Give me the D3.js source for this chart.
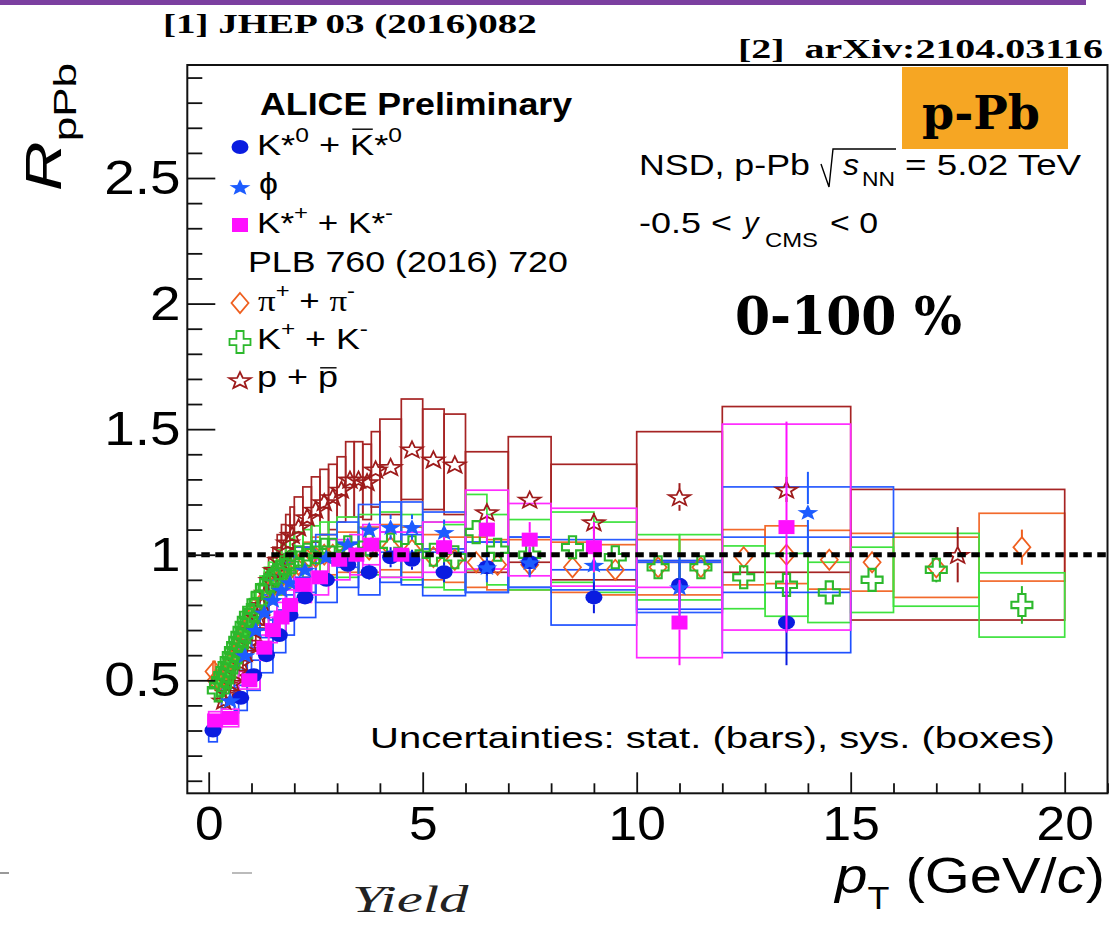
<!DOCTYPE html>
<html><head><meta charset="utf-8">
<script src="https://cdn.jsdelivr.net/npm/d3@7"></script>
<style>html,body{margin:0;padding:0;background:#fff}svg{display:block}text{white-space:pre}</style>
</head><body>
<svg id="c" width="1110" height="925"></svg>
<script>
// ---------------- DATA ----------------
// pi+ + pi-  (PLB 760 (2016) 720)
const piEdges = [0.1,0.15,0.2,0.3,0.4,0.5,0.6,0.7,0.8,0.9,1.0,1.2,1.4,1.6,1.8,2.0,2.2,2.4,2.6,2.8,3.0,3.5,4.0,4.5,5.0,5.5,6.0,6.5,7.0,8.0,9.0,10.0,11.0,12.0,13.0,14.0,15.0,16.0,18.0,20.0];
const piVal  = [0.535,0.50,0.50,0.52,0.55,0.58,0.61,0.65,0.69,0.72,0.77,0.82,0.87,0.91,0.94,0.96,0.98,0.99,1.00,1.00,1.01,1.02,1.03,1.02,0.99,0.98,0.97,0.96,0.96,0.95,0.94,0.95,0.95,0.99,1.00,0.98,0.97,0.95,1.03];
const piStat = [0.04,0.01,0.01,0.01,0.01,0.01,0.01,0.01,0.01,0.01,0.01,0.01,0.01,0.01,0.01,0.01,0.01,0.01,0.01,0.01,0.01,0.01,0.01,0.01,0.01,0.01,0.015,0.015,0.015,0.02,0.02,0.02,0.025,0.03,0.03,0.03,0.035,0.04,0.07];
const piSys  = [0.04,0.04,0.04,0.04,0.04,0.04,0.04,0.05,0.05,0.05,0.05,0.06,0.06,0.07,0.07,0.07,0.07,0.08,0.08,0.08,0.08,0.09,0.09,0.09,0.09,0.09,0.10,0.10,0.10,0.10,0.10,0.11,0.11,0.11,0.115,0.117,0.115,0.12,0.135];

// K+ + K-
const kEdges = [0.2,0.25,0.3,0.35,0.4,0.45,0.5,0.55,0.6,0.65,0.7,0.75,0.8,0.85,0.9,0.95,1.0,1.1,1.2,1.3,1.4,1.5,1.6,1.7,1.8,1.9,2.0,2.2,2.4,2.6,2.8,3.0,3.5,4.0,4.5,5.0,5.5,6.0,6.5,7.0,8.0,9.0,10.0,11.0,12.0,13.0,14.0,15.0,16.0,18.0,20.0];
const kVal  = [0.46,0.48,0.50,0.52,0.54,0.56,0.58,0.60,0.62,0.64,0.66,0.68,0.70,0.72,0.74,0.76,0.78,0.81,0.84,0.87,0.89,0.91,0.93,0.95,0.96,0.97,0.99,1.00,1.01,1.02,1.02,1.03,1.04,1.04,1.03,1.00,0.99,1.09,1.02,1.00,1.03,0.99,0.95,0.95,0.91,0.88,0.85,0.90,0.94,0.80];
const kStat = [0.01,0.01,0.01,0.01,0.01,0.01,0.01,0.01,0.01,0.01,0.01,0.01,0.01,0.01,0.01,0.01,0.01,0.01,0.01,0.01,0.01,0.01,0.01,0.01,0.01,0.01,0.01,0.01,0.01,0.01,0.01,0.01,0.01,0.01,0.01,0.01,0.01,0.01,0.01,0.015,0.02,0.02,0.03,0.03,0.03,0.035,0.04,0.04,0.05,0.075];
const kSys  = [0.04,0.04,0.04,0.045,0.045,0.045,0.05,0.05,0.05,0.055,0.055,0.055,0.06,0.06,0.06,0.065,0.07,0.07,0.075,0.08,0.08,0.085,0.09,0.09,0.095,0.095,0.10,0.10,0.105,0.11,0.11,0.12,0.12,0.13,0.13,0.13,0.13,0.15,0.14,0.14,0.14,0.14,0.13,0.13,0.125,0.125,0.12,0.13,0.145,0.128];

// p + pbar
const pEdges = [0.3,0.4,0.5,0.6,0.7,0.8,0.9,1.0,1.1,1.2,1.3,1.4,1.5,1.6,1.7,1.8,1.9,2.0,2.2,2.4,2.6,2.8,3.0,3.2,3.4,3.6,3.8,4.0,4.5,5.0,5.5,6.0,7.0,8.0,10.0,12.0,15.0,20.0];
const pVal  = [0.42,0.45,0.49,0.53,0.57,0.61,0.65,0.70,0.75,0.80,0.85,0.90,0.94,0.98,1.02,1.05,1.08,1.11,1.15,1.18,1.21,1.23,1.26,1.30,1.30,1.29,1.34,1.35,1.42,1.38,1.36,1.17,1.22,1.13,1.23,1.26,1.00];
const pStat = [0.01,0.01,0.01,0.01,0.01,0.01,0.01,0.01,0.01,0.01,0.01,0.01,0.01,0.01,0.01,0.01,0.01,0.01,0.01,0.01,0.01,0.01,0.01,0.01,0.01,0.01,0.01,0.02,0.02,0.02,0.02,0.03,0.03,0.035,0.055,0.05,0.11];
const pSys  = [0.03,0.03,0.04,0.04,0.05,0.05,0.06,0.06,0.07,0.08,0.08,0.09,0.09,0.10,0.10,0.11,0.11,0.12,0.12,0.13,0.13,0.13,0.13,0.15,0.15,0.15,0.15,0.19,0.20,0.20,0.20,0.24,0.25,0.23,0.26,0.33,0.26];

// K*0 + anti-K*0
const kst0Lo   = [0.0,0.6,0.9,1.2,1.5,1.8,2.0,2.5,3.0,3.5,4.0,4.5,5.0,6.0,7.0,8.0,10.0,12.0];
const kst0Hi   = [0.2,0.9,1.2,1.5,1.8,2.0,2.5,3.0,3.5,4.0,4.5,5.0,6.0,7.0,8.0,10.0,12.0,15.0];
const kst0Val  = [0.30,0.43,0.52,0.60,0.68,0.76,0.83,0.90,0.96,0.93,0.99,0.98,0.93,0.95,0.97,0.83,0.88,0.73];
const kst0Stat = [0.02,0.02,0.02,0.02,0.02,0.02,0.02,0.02,0.03,0.03,0.04,0.04,0.04,0.05,0.05,0.063,0.09,0.17];
const kst0Sys  = [0.045,0.05,0.06,0.07,0.07,0.08,0.08,0.09,0.09,0.09,0.10,0.10,0.093,0.10,0.10,0.11,0.097,0.12];

// phi
const phiLo   = [0.3,0.7,1.0,1.2,1.4,1.6,1.8,2.0,2.5,3.0,3.5,4.0,4.5,5.0,6.0,7.0,8.0,10.0,12.0];
const phiHi   = [0.7,1.0,1.2,1.4,1.6,1.8,2.0,2.5,3.0,3.5,4.0,4.5,5.0,6.0,7.0,8.0,10.0,12.0,16.0];
const phiVal  = [0.42,0.60,0.70,0.77,0.82,0.86,0.89,0.94,0.99,1.04,1.10,1.11,1.11,1.09,0.95,0.97,0.96,0.87,1.17];
const phiStat = [0.03,0.02,0.02,0.02,0.02,0.02,0.02,0.02,0.02,0.03,0.03,0.05,0.05,0.05,0.06,0.06,0.07,0.12,0.16];
const phiSys  = [0.05,0.06,0.07,0.07,0.08,0.08,0.08,0.09,0.09,0.09,0.10,0.10,0.10,0.08,0.10,0.10,0.10,0.10,0.10];

// K*+ + K*-
const kstcLo   = [0.0,0.3,0.7,1.2,1.4,1.6,1.8,2.0,2.4,2.8,3.3,3.6,4.0,5.0,6.0,7.0,8.0,10.0,12.0];
const kstcHi   = [0.3,0.7,1.2,1.4,1.6,1.8,2.0,2.4,2.8,3.3,3.6,4.0,5.0,6.0,7.0,8.0,10.0,12.0,15.0];
const kstcVal  = [0.34,0.35,0.50,0.63,0.70,0.75,0.80,0.88,0.91,0.98,1.00,1.04,1.00,1.03,1.10,1.06,1.03,0.73,1.11];
const kstcStat = [0.02,0.02,0.02,0.02,0.02,0.02,0.02,0.02,0.02,0.02,0.03,0.03,0.03,0.04,0.06,0.07,0.10,0.17,0.42];
const kstcSys  = [0.035,0.035,0.035,0.05,0.05,0.06,0.06,0.07,0.07,0.08,0.08,0.08,0.09,0.10,0.157,0.144,0.155,0.14,0.41];

// axes
const xDomain = [-0.5, 21];
const yDomain = [0.05, 2.95];
const xTickValues = [0, 5, 10, 15, 20];
const xTickLabels = ['0', '5', '10', '15', '20'];
const yTickValues = [0.5, 1, 1.5, 2, 2.5];
const yTickLabels = ['0.5', '1', '1.5', '2', '2.5'];

// ---------------- LAYOUT / STYLE ----------------
const SANS = "'Liberation Sans', Arial, Helvetica, sans-serif";
const SERIF = "'Liberation Serif', 'Times New Roman', serif";
const SLAB = "'DejaVu Serif', 'Liberation Serif', serif";
const frame = {l: 187.3, r: 1107.5, t: 65, b: 793.3};
const col = {
  pi:  {m: '#ef5f1f', b: '#f26a2c'},
  k:   {m: '#2cb82c', b: '#3ee23e'},
  p:   {m: '#9e1b1b', b: '#a62424'},
  kst0:{m: '#0a1ce0', b: '#1f50ff'},
  phi: {m: '#1d5cff', b: '#2a5cff'},
  kstc:{m: '#ff0fff', b: '#ff2bff'}
};

const svg = d3.select('#c');
const x = d3.scaleLinear().domain(xDomain).range([frame.l, frame.r]);
const y = d3.scaleLinear().domain(yDomain).range([frame.b, frame.t]);

svg.append('rect').attr('width', 1110).attr('height', 925).attr('fill', '#fff');
svg.append('rect').attr('x', 0).attr('y', 0).attr('width', 1086).attr('height', 5).attr('fill', '#7b3fa0');

// ---------- helpers ----------
function fitText(parent, str, left, baseline, size, width, o = {}) {
  const t = parent.append('text').attr('x', 0).attr('y', 0)
    .style('font-family', o.family || SANS).style('font-size', size + 'px')
    .style('font-weight', o.bold ? 'bold' : 'normal').style('font-style', o.italic ? 'italic' : 'normal')
    .attr('fill', o.fill || '#000').text(str);
  const bb = t.node().getBBox();
  const sx = width ? width / bb.width : 1;
  t.attr('transform', `translate(${left - bb.x * sx},${baseline}) scale(${sx},1)`);
  return t;
}
function richText(parent, parts, size, width, o = {}) {
  const g = parent.append('g');
  let cx = 0;
  parts.forEach(p => {
    const fs = (p.s || 1) * size;
    const yy = (p.dy || 0) * size;
    const t = g.append('text').attr('x', cx).attr('y', yy)
      .style('font-family', p.family || o.family || SANS).style('font-size', fs + 'px')
      .style('font-weight', (p.bold || o.bold) ? 'bold' : 'normal')
      .style('font-style', p.italic ? 'italic' : 'normal').attr('fill', '#000').text(p.t);
    const w = t.node().getComputedTextLength();
    if (p.over) {
      const oy = yy - fs * p.over;
      g.append('line').attr('x1', cx + fs * 0.06).attr('x2', cx + w - fs * 0.04)
        .attr('y1', oy).attr('y2', oy).attr('stroke', '#000').attr('stroke-width', 1.4);
    }
    cx += w;
  });
  const bb = g.node().getBBox();
  const sx = width ? width / bb.width : 1;
  return {g, bb, sx};
}
function placeRich(parent, parts, left, baseline, size, width, o = {}) {
  const r = richText(parent, parts, size, width, o);
  r.g.attr('transform', `translate(${left - r.bb.x * r.sx},${baseline}) scale(${r.sx},1)`);
  return r.g;
}

// marker shapes (centered at 0,0), stretched horizontally like the original
const SX = 1.28;
function starPts(R, r) {
  const pts = [];
  for (let i = 0; i < 10; i++) {
    const a = -Math.PI / 2 + i * Math.PI / 5;
    const rr = i % 2 ? r : R;
    pts.push([Math.cos(a) * rr * SX, Math.sin(a) * rr + R * 0.1]);
  }
  return 'M' + pts.map(p => p.join(',')).join('L') + 'Z';
}
const shapes = {
  circle: 'M-8.5,0 A8.5,7 0 1,0 8.5,0 A8.5,7 0 1,0 -8.5,0Z',
  star: starPts(8.6, 3.6),
  ostar: starPts(8.8, 3.7),
  square: 'M-8,-7 L8,-7 L8,7 L-8,7Z',
  diamond: 'M0,-10 L8.5,0 L0,10 L-8.5,0Z',
  cross: (() => { const a = 3.6, b = 3.2, L = 10.5, H = 11;
    return `M${-a},${-H} L${a},${-H} L${a},${-b} L${L},${-b} L${L},${b} L${a},${b} L${a},${H} L${-a},${H} L${-a},${b} L${-L},${b} L${-L},${-b} L${-a},${-b}Z`; })()
};
const half = {circle: 7, star: 8, ostar: 8, square: 7, diamond: 10, cross: 11};

function makeSeries(lo, hi, val, stat, sys) {
  return val.map((v, i) => ({lo: lo[i], hi: hi[i], x: (lo[i] + hi[i]) / 2, v, st: stat[i], sy: sys[i]}));
}
const edgesLo = e => e.slice(0, -1), edgesHi = e => e.slice(1);
const series = [
  {key: 'pi', shape: 'diamond', fill: false, sw: 1.8, d: makeSeries(edgesLo(piEdges), edgesHi(piEdges), piVal, piStat, piSys)},
  {key: 'p', shape: 'ostar', fill: false, sw: 1.8, d: makeSeries(edgesLo(pEdges), edgesHi(pEdges), pVal, pStat, pSys)},
  {key: 'k', shape: 'cross', fill: false, sw: 2.1, d: makeSeries(edgesLo(kEdges), edgesHi(kEdges), kVal, kStat, kSys)},
  {key: 'kst0', shape: 'circle', fill: true, d: makeSeries(kst0Lo, kst0Hi, kst0Val, kst0Stat, kst0Sys)},
  {key: 'phi', shape: 'star', fill: true, d: makeSeries(phiLo, phiHi, phiVal, phiStat, phiSys)},
  {key: 'kstc', shape: 'square', fill: true, d: makeSeries(kstcLo, kstcHi, kstcVal, kstcStat, kstcSys)}
];

// ---------- systematic boxes ----------
const gBox = svg.append('g');
series.forEach(s => {
  gBox.append('g').selectAll('rect').data(s.d).join('rect')
    .attr('x', d => x(d.lo)).attr('width', d => x(d.hi) - x(d.lo))
    .attr('y', d => y(d.v + d.sy)).attr('height', d => y(d.v - d.sy) - y(d.v + d.sy))
    .attr('fill', 'none').attr('stroke', col[s.key].b).attr('stroke-width', 1.7);
});
// ---------- stat bars + markers ----------
const gPts = svg.append('g');
series.forEach(s => {
  const g = gPts.append('g');
  const hh = half[s.shape];
  g.selectAll('line.up').data(s.d.filter(d => y(d.v) - y(d.v + d.st) > hh)).join('line')
    .attr('x1', d => x(d.x)).attr('x2', d => x(d.x))
    .attr('y1', d => y(d.v + d.st)).attr('y2', d => y(d.v) - hh)
    .attr('stroke', col[s.key].m).attr('stroke-width', 2);
  g.selectAll('line.dn').data(s.d.filter(d => y(d.v - d.st) - y(d.v) > hh)).join('line')
    .attr('x1', d => x(d.x)).attr('x2', d => x(d.x))
    .attr('y1', d => y(d.v) + hh).attr('y2', d => y(d.v - d.st))
    .attr('stroke', col[s.key].m).attr('stroke-width', 2);
  g.selectAll('path').data(s.d).join('path')
    .attr('d', shapes[s.shape])
    .attr('transform', d => `translate(${x(d.x)},${y(d.v)})`)
    .attr('fill', s.fill ? col[s.key].m : 'none')
    .attr('stroke', col[s.key].m).attr('stroke-width', s.fill ? 0 : s.sw);
});

// ---------- dashed line at 1 ----------
svg.append('line').attr('x1', frame.l).attr('x2', frame.r).attr('y1', y(1)).attr('y2', y(1))
  .attr('stroke', '#000').attr('stroke-width', 5).attr('stroke-dasharray', '8.5,5.5');

// ---------- frame & axes ----------
svg.append('rect').attr('x', frame.l).attr('y', frame.t).attr('width', frame.r - frame.l).attr('height', frame.b - frame.t)
  .attr('fill', 'none').attr('stroke', '#111').attr('stroke-width', 2);

const yMinor = d3.range(1, 30).map(i => i / 10).filter(v => !yTickValues.some(t => Math.abs(t - v) < 1e-6));
const xMinor = d3.range(0, 22).filter(v => !xTickValues.includes(v) && v <= 21);

const gyMinor = svg.append('g').attr('transform', `translate(${frame.l},0)`)
  .call(d3.axisLeft(y).tickValues(yMinor).tickSize(-15).tickFormat(''));
const gy = svg.append('g').attr('transform', `translate(${frame.l},0)`)
  .call(d3.axisLeft(y).tickValues(yTickValues).tickSize(-28).tickPadding(6).tickFormat((d, i) => yTickLabels[i]));
const gxMinor = svg.append('g').attr('transform', `translate(0,${frame.b})`)
  .call(d3.axisBottom(x).tickValues(xMinor).tickSize(-10).tickFormat(''));
const gx = svg.append('g').attr('transform', `translate(0,${frame.b})`)
  .call(d3.axisBottom(x).tickValues(xTickValues).tickSize(-21).tickPadding(12).tickFormat((d, i) => xTickLabels[i]));
[gyMinor, gy, gxMinor, gx].forEach(g => {
  g.select('.domain').remove();
  g.selectAll('line').attr('stroke', '#111').attr('stroke-width', 1.8);
  g.selectAll('text').style('font-family', SANS).style('font-size', '49px').attr('fill', '#000');
});
gy.selectAll('text').attr('transform', 'scale(1.12,1)');
gx.selectAll('text').attr('transform', 'scale(1.05,1)');

// axis titles
placeRich(svg, [{t: 'p', italic: true}, {t: 'T', s: 0.62, dy: 0.32}, {t: ' (GeV/'}, {t: 'c', italic: true}, {t: ')'}], 833, 893, 50, 272);
(() => {
  const r = richText(svg, [{t: 'R', italic: true}, {t: 'pPb', s: 0.64, dy: 0.3}], 50, 128);
  r.g.attr('transform', `translate(61,191) rotate(-90) scale(${r.sx},1) translate(${-r.bb.x},0)`);
})();

// ---------- legend ----------
const leg = svg.append('g');
fitText(leg, 'ALICE Preliminary', 260, 115, 31, 313, {bold: true});
const legRows = [
  {key: 'kst0', shape: 'circle', fill: true, my: 147, base: 155, left: 257, w: 145,
   parts: [{t: 'K'}, {t: '*'}, {t: '0', s: 0.68, dy: -0.42}, {t: ' + '}, {t: 'K', over: 0.86}, {t: '*'}, {t: '0', s: 0.68, dy: -0.42}]},
  {key: 'phi', shape: 'star', fill: true, my: 187, base: 194, left: 259, w: 19, parts: [{t: 'ϕ'}]},
  {key: 'kstc', shape: 'square', fill: true, my: 225, base: 233, left: 257, w: 136,
   parts: [{t: 'K'}, {t: '*'}, {t: '+', s: 0.68, dy: -0.42}, {t: ' + '}, {t: 'K'}, {t: '*'}, {t: '-', s: 0.68, dy: -0.42}]},
  {key: 'pi', shape: 'diamond', fill: false, my: 303, base: 311, left: 258, w: 97,
   parts: [{t: 'π', family: SERIF}, {t: '+', s: 0.68, dy: -0.42}, {t: ' + '}, {t: 'π', family: SERIF}, {t: '-', s: 0.68, dy: -0.42}]},
  {key: 'k', shape: 'cross', fill: false, my: 342, base: 349, left: 257, w: 111,
   parts: [{t: 'K'}, {t: '+', s: 0.68, dy: -0.42}, {t: ' + '}, {t: 'K'}, {t: '-', s: 0.68, dy: -0.42}]},
  {key: 'p', shape: 'ostar', fill: false, my: 380, base: 387, left: 257, w: 81,
   parts: [{t: 'p'}, {t: ' + '}, {t: 'p', over: 0.64}]}
];
legRows.forEach(r => {
  leg.append('path').attr('d', shapes[r.shape]).attr('transform', `translate(240,${r.my})`)
    .attr('fill', r.fill ? col[r.key].m : 'none').attr('stroke', col[r.key].m).attr('stroke-width', r.fill ? 0 : 1.8);
  placeRich(leg, r.parts, r.left, r.base, 30, r.w);
});
fitText(leg, 'PLB 760 (2016) 720', 248, 272, 29, 320);

// ---------- right-side annotations ----------
const ann = svg.append('g');
fitText(ann, 'NSD, p-Pb', 639, 175, 29, 171);
ann.append('path').attr('d', 'M821,164 L829,187 L833,149 L896,149').attr('fill', 'none').attr('stroke', '#000').attr('stroke-width', 1.4);
fitText(ann, 's', 843, 175, 29, 16, {italic: true});
fitText(ann, 'NN', 862, 186, 20, 33);
fitText(ann, '= 5.02 TeV', 905, 175, 29, 177);
fitText(ann, '-0.5 <', 639, 233, 29, 93);
fitText(ann, 'y', 742, 233, 29, 18, {italic: true});
fitText(ann, 'CMS', 765, 247, 20, 53);
fitText(ann, '< 0', 830, 233, 29, 48);
fitText(ann, '0-100 %', 735, 334, 52, 227, {family: SLAB, bold: true});
fitText(ann, 'Uncertainties: stat. (bars), sys. (boxes)', 370, 748, 30, 685);

// p-Pb label box
svg.append('rect').attr('x', 902).attr('y', 67).attr('width', 166).attr('height', 82).attr('fill', '#f6a623');
fitText(svg, 'p-Pb', 922, 129, 46, 118, {family: SLAB, bold: true});

// ---------- header references ----------
fitText(svg, '[1] JHEP 03 (2016)082', 163, 33, 28, 374, {family: SERIF, bold: true});
fitText(svg, '[2]  arXiv:2104.03116', 738, 58, 28, 365, {family: SERIF, bold: true});

// ---------- bottom slide remnants ----------
fitText(svg, 'Yield', 352, 912, 38, 118, {family: SERIF, italic: true, fill: '#222'});
svg.append('line').attr('x1', 0).attr('x2', 9).attr('y1', 873).attr('y2', 873).attr('stroke', '#999').attr('stroke-width', 2);
svg.append('line').attr('x1', 232).attr('x2', 252).attr('y1', 873).attr('y2', 873).attr('stroke', '#bbb').attr('stroke-width', 2);
</script>
</body></html>
